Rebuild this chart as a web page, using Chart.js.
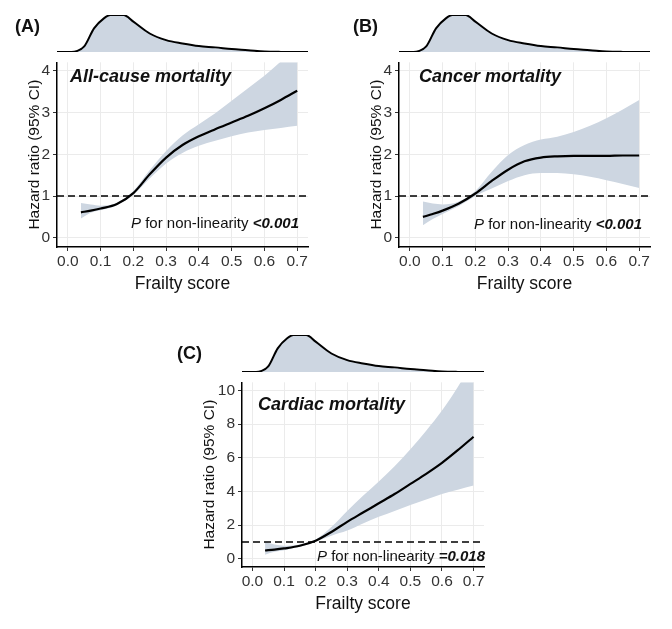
<!DOCTYPE html>
<html lang="en">
<head>
<meta charset="UTF-8">
<title>Frailty score and mortality</title>
<script src="https://cdn.jsdelivr.net/npm/chart.js"></script>
<style>
  body { margin: 0; background: #fff; font-family: 'Liberation Sans', Arial, sans-serif; }
  .page { position: relative; width: 672px; height: 629px; overflow: hidden; }
  .box { position: absolute; z-index: 1; }
  .tag { position: absolute; z-index: 2; font-weight: bold; font-size: 18px; line-height: 1; color: #111; transform: translateY(-50%); }
  .label { position: absolute; z-index: 2; font-weight: bold; font-style: italic; font-size: 18px; line-height: 1; color: #111; white-space: nowrap; transform: translateY(-50%); }
  .pval { position: absolute; z-index: 2; font-size: 15px; line-height: 1; color: #111; white-space: nowrap; transform: translate(-100%, -50%); }
</style>
</head>
<body>
<div class="page" id="page">
  <div class="tag" style="left:15px; top:26px;">(A)</div>
  <div class="tag" style="left:353px; top:26px;">(B)</div>
  <div class="tag" style="left:177px; top:353px;">(C)</div>

  <div class="label" style="left:70px; top:76px;">All-cause mortality</div>
  <div class="label" style="left:419px; top:76px;">Cancer mortality</div>
  <div class="label" style="left:258px; top:404px;">Cardiac mortality</div>

  <div class="pval" style="left:299px; top:222px;"><i>P</i> for non-linearity <b><i>&lt;0.001</i></b></div>
  <div class="pval" style="left:642px; top:223px;"><i>P</i> for non-linearity <b><i>&lt;0.001</i></b></div>
  <div class="pval" style="left:485px; top:555px;"><i>P</i> for non-linearity <b><i>=0.018</i></b></div>
</div>

<script>
// frailty score grid for the spline curves
const frailtyX = [0.04, 0.07, 0.10, 0.15, 0.20, 0.25, 0.30, 0.35, 0.40, 0.45, 0.50, 0.55, 0.60, 0.65, 0.70];

// (A) all-cause mortality
const allCauseHR    = [0.61, 0.65, 0.70, 0.81, 1.07, 1.52, 1.92, 2.22, 2.43, 2.60, 2.76, 2.92, 3.10, 3.30, 3.52];
const allCauseLower = [0.46, 0.60, 0.66, 0.78, 1.03, 1.42, 1.78, 2.03, 2.20, 2.32, 2.43, 2.52, 2.58, 2.63, 2.68];
const allCauseUpper = [0.83, 0.80, 0.77, 0.84, 1.12, 1.62, 2.08, 2.45, 2.72, 2.98, 3.28, 3.58, 3.88, 4.22, 4.60];

// (B) cancer mortality
const cancerHR    = [0.50, 0.57, 0.65, 0.82, 1.06, 1.36, 1.63, 1.83, 1.92, 1.95, 1.96, 1.96, 1.96, 1.97, 1.97];
const cancerLower = [0.30, 0.45, 0.57, 0.76, 1.00, 1.18, 1.36, 1.50, 1.55, 1.55, 1.52, 1.46, 1.38, 1.29, 1.19];
const cancerUpper = [0.87, 0.82, 0.80, 0.87, 1.12, 1.58, 1.98, 2.22, 2.35, 2.42, 2.53, 2.68, 2.86, 3.07, 3.30];

// (C) cardiac mortality
const cardiacHR    = [0.50, 0.55, 0.62, 0.78, 1.08, 1.60, 2.20, 2.75, 3.30, 3.85, 4.45, 5.05, 5.70, 6.45, 7.25];
const cardiacLower = [0.25, 0.42, 0.52, 0.72, 1.02, 1.38, 1.68, 2.10, 2.50, 2.85, 3.20, 3.52, 3.85, 4.10, 4.35];
const cardiacUpper = [1.00, 0.85, 0.78, 0.86, 1.15, 1.90, 2.85, 3.75, 4.60, 5.50, 6.50, 7.60, 8.80, 10.2, 11.8];

// marginal density of frailty score (relative height)
const densityX = [-0.033, 0.0, 0.02, 0.05, 0.08, 0.11, 0.13, 0.15, 0.17, 0.20, 0.25, 0.30, 0.35, 0.40, 0.45, 0.50, 0.55, 0.60, 0.65, 0.70, 0.733];
const densityY = [0, 0, 0.01, 0.15, 0.64, 0.91, 1.0, 1.0, 1.0, 0.82, 0.50, 0.32, 0.23, 0.16, 0.125, 0.08, 0.05, 0.015, 0.003, 0, 0];

// tick labels
const xTicks = [0.0, 0.1, 0.2, 0.3, 0.4, 0.5, 0.6, 0.7];
const yTicksAB = [0, 1, 2, 3, 4];
const yTicksC = [0, 2, 4, 6, 8, 10];
const refValue = 1;

const bandColor = '#cdd6e1';
const fontFamily = "'Liberation Sans', Arial, sans-serif";

Chart.defaults.font.family = fontFamily;
Chart.defaults.animation = false;

function pts(xs, ys) {
    return xs.map((x, i) => ({ x: x, y: ys[i] }));
}

// dashed reference line at HR = 1
const refLine = {
    id: 'refLine',
    afterDatasetsDraw(chart) {
        const { ctx, chartArea } = chart;
        const y = chart.scales.y.getPixelForValue(refValue);
        ctx.save();
        ctx.strokeStyle = '#000';
        ctx.lineWidth = 1.4;
        ctx.setLineDash([7, 4]);
        ctx.beginPath();
        ctx.moveTo(chartArea.left, y);
        ctx.lineTo(chartArea.right, y);
        ctx.stroke();
        ctx.restore();
    }
};

function makeBox(left, top, w, h) {
    const div = document.createElement('div');
    div.className = 'box';
    div.style.left = left + 'px';
    div.style.top = top + 'px';
    div.style.width = w + 'px';
    div.style.height = h + 'px';
    const c = document.createElement('canvas');
    div.appendChild(c);
    document.getElementById('page').appendChild(div);
    return c;
}

function makePanel(p) {
    const xMin = -0.033, xMax = 0.733;

    // density strip
    const dc = makeBox(p.left, p.top, p.width, 60);
    new Chart(dc, {
        type: 'line',
        data: {
            datasets: [{
                data: pts(densityX, densityY),
                borderColor: '#000',
                borderWidth: 2,
                backgroundColor: bandColor,
                fill: 'origin',
                pointRadius: 0,
                cubicInterpolationMode: 'monotone'
            }]
        },
        options: {
            responsive: true,
            maintainAspectRatio: false,
            layout: { padding: { left: p.padLeft + p.yWidth, right: 12, top: 15, bottom: 8 } },
            plugins: { legend: { display: false }, tooltip: { enabled: false } },
            scales: {
                x: { type: 'linear', min: xMin, max: xMax, display: false },
                y: { min: 0, max: 1, display: false }
            }
        }
    });

    // main spline plot: band underneath, HR curve on top
    const mc = makeBox(p.left, p.top + 50, p.width, 250);
    new Chart(mc, {
        type: 'line',
        data: {
            datasets: [
                { data: pts(frailtyX, p.lower), order: 2, borderWidth: 0, pointRadius: 0, fill: false, cubicInterpolationMode: 'monotone' },
                { data: pts(frailtyX, p.upper), order: 1, borderWidth: 0, pointRadius: 0, fill: 0, backgroundColor: bandColor, cubicInterpolationMode: 'monotone' },
                { data: pts(frailtyX, p.hr), order: 0, borderColor: '#000', borderWidth: 2.2, pointRadius: 0, fill: false, cubicInterpolationMode: 'monotone' }
            ]
        },
        options: {
            responsive: true,
            maintainAspectRatio: false,
            layout: { padding: { left: p.padLeft, right: 12, top: 7, bottom: 1 } },
            plugins: { legend: { display: false }, tooltip: { enabled: false } },
            scales: {
                x: {
                    type: 'linear',
                    min: xMin,
                    max: xMax,
                    afterBuildTicks: axis => { axis.ticks = xTicks.map(v => ({ value: v })); },
                    afterFit: axis => { axis.height = 52; },
                    ticks: { color: '#333', font: { size: 15.5 }, padding: 1, callback: v => v.toFixed(1), maxRotation: 0 },
                    grid: { color: '#ebebeb', lineWidth: 1, tickColor: '#333', tickLength: 4 },
                    border: { display: true, color: '#000', width: 1.5 },
                    title: { display: true, text: 'Frailty score', color: '#111', font: { size: 17.5 }, padding: { top: 0, bottom: 4 } }
                },
                y: {
                    min: p.yMin,
                    max: p.yMax,
                    afterBuildTicks: axis => { axis.ticks = p.yTicks.map(v => ({ value: v })); },
                    afterFit: axis => { axis.width = p.yWidth; },
                    ticks: { color: '#333', font: { size: 15.5 }, padding: 3 },
                    grid: { color: '#ebebeb', lineWidth: 1, tickColor: '#333', tickLength: 4 },
                    border: { display: true, color: '#000', width: 1.5 },
                    title: { display: true, text: 'Hazard ratio (95% CI)', color: '#111', font: { size: 15.5 }, padding: { top: 4, bottom: 0 } }
                }
            }
        },
        plugins: [refLine]
    });
}

makePanel({ left: 0, top: 0, width: 320, padLeft: 21, yWidth: 36, yMin: -0.22, yMax: 4.2, yTicks: yTicksAB,
            hr: allCauseHR, lower: allCauseLower, upper: allCauseUpper });
makePanel({ left: 342, top: 0, width: 320, padLeft: 21, yWidth: 36, yMin: -0.22, yMax: 4.2, yTicks: yTicksAB,
            hr: cancerHR, lower: cancerLower, upper: cancerUpper });
makePanel({ left: 160, top: 320, width: 336, padLeft: 36, yWidth: 46, yMin: -0.48, yMax: 10.48, yTicks: yTicksC,
            hr: cardiacHR, lower: cardiacLower, upper: cardiacUpper });
</script>
</body>
</html>
